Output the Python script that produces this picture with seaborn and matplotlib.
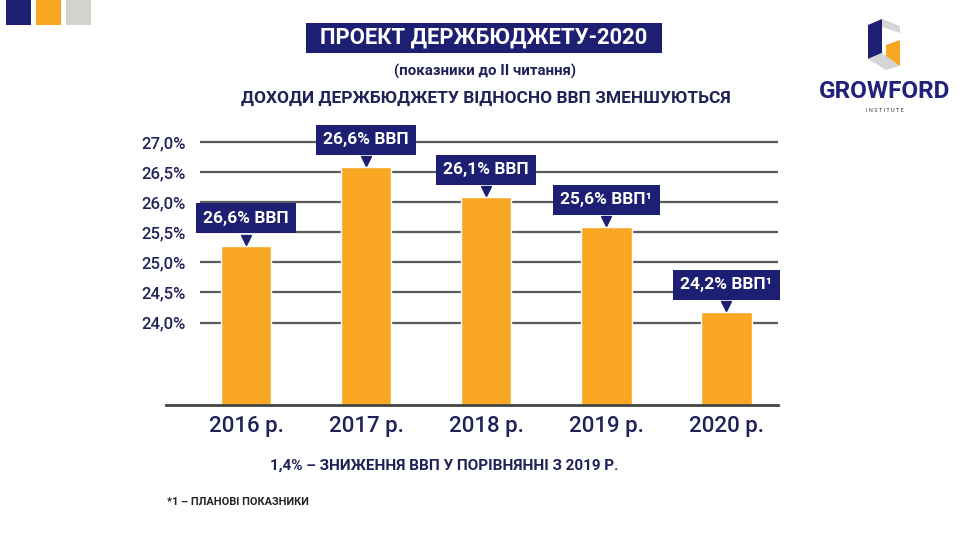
import matplotlib
matplotlib.use("Agg")
import matplotlib.pyplot as plt
import seaborn as sns
import pandas as pd
from matplotlib.patches import Polygon, Rectangle

# ---- data ----
years = ["2016 р.", "2017 р.", "2018 р.", "2019 р.", "2020 р."]
values = [25.28, 26.58, 26.08, 25.58, 24.17]
bar_labels = ["26,6% ВВП", "26,6% ВВП", "26,1% ВВП", "25,6% ВВП¹", "24,2% ВВП¹"]
y_ticks = [24.0, 24.5, 25.0, 25.5, 26.0, 26.5, 27.0]
y_tick_labels = ["24,0%", "24,5%", "25,0%", "25,5%", "26,0%", "26,5%", "27,0%"]

title = "ПРОЕКТ ДЕРЖБЮДЖЕТУ-2020"
subtitle = "(показники до II читання)"
heading = "ДОХОДИ ДЕРЖБЮДЖЕТУ ВІДНОСНО ВВП ЗМЕНШУЮТЬСЯ"
note = "1,4% – ЗНИЖЕННЯ ВВП У ПОРІВНЯННІ З 2019 Р."
footnote = "*1 – ПЛАНОВІ ПОКАЗНИКИ"

ORANGE = "#F9A623"
NAVY = "#1C1F72"
TEXT = "#1F2157"
GRID = "#5a5a5a"

sns.set_style("white")
plt.rcParams["font.family"] = ["Roboto", "DejaVu Sans"]

W, H = 960, 540
fig = plt.figure(figsize=(9.6, 5.4), dpi=100)
fig.patch.set_facecolor("white")

def fx(px):
    return px / W

def fy(py):
    return 1 - py / H

ax = fig.add_axes([fx(166), fy(405), fx(778) - fx(166), fy(130) - fy(405)])
df = pd.DataFrame({"year": years, "value": values})
sns.barplot(data=df, x="year", y="value", color=ORANGE, width=0.42,
            saturation=1, ax=ax, zorder=2)

ax.set_xlim(-0.667, 4.43)
ax.set_ylim(22.63, 27.2)
ax.hlines(y_ticks, -0.383, 4.43, color=GRID, lw=1.6, zorder=1)

for s in ["top", "right", "left"]:
    ax.spines[s].set_visible(False)
ax.spines["bottom"].set_color("#444444")
ax.spines["bottom"].set_linewidth(2)

ax.set_yticks(y_ticks)
ax.set_yticklabels(y_tick_labels)
ax.tick_params(axis="y", length=0, pad=-14.4, labelsize=12, labelcolor=TEXT)
for lab in ax.get_yticklabels():
    lab.set_fontweight("medium")
ax.tick_params(axis="x", direction="in", length=6, width=1.5, color="#444444",
               pad=8, labelsize=16, labelcolor=TEXT)
for lab in ax.get_xticklabels():
    lab.set_fontweight("medium")
ax.set_xlabel("")
ax.set_ylabel("")

# value labels with pointer
for i, (v, lab) in enumerate(zip(values, bar_labels)):
    ax.annotate(lab, xy=(i, v), xytext=(0, 27.5), textcoords="offset pixels",
                ha="center", va="center", color="white", fontsize=12.5,
                fontweight="bold", zorder=5,
                bbox=dict(boxstyle="square,pad=0.42", fc=NAVY, ec="none"))
    ax.plot([i], [v], marker="v", markersize=7.5, color=NAVY, zorder=4,
            transform=matplotlib.transforms.offset_copy(ax.transData, fig=fig, x=0, y=6, units="dots"))

# titles
fig.patches.append(Rectangle((fx(306), fy(53)), fx(662) - fx(306), fy(23) - fy(53),
                             transform=fig.transFigure, fc=NAVY, ec="none"))
fig.text(fx(484), fy(38), title, ha="center", va="center", color="white",
         fontsize=15.8, fontweight="bold")
fig.text(fx(485), fy(71), subtitle, ha="center", va="center", color=TEXT,
         fontsize=10.8, fontweight="bold")
fig.text(fx(486), fy(98), heading, ha="center", va="center", color=TEXT,
         fontsize=12.5, fontweight="bold")
fig.text(fx(444), fy(466), note, ha="center", va="center", color=TEXT,
         fontsize=11, fontweight="bold")
fig.text(fx(167), fy(502), footnote, ha="left", va="center", color="#222222",
         fontsize=7.9, fontweight="bold")

# corner squares
for x0, c in [(6, NAVY), (36, ORANGE), (66, "#D2D2CE")]:
    fig.patches.append(Rectangle((fx(x0), fy(25)), fx(25), 25 / H,
                                 transform=fig.transFigure, fc=c, ec="none"))

# logo
def poly(pts, c):
    fig.patches.append(Polygon([(fx(a), fy(b)) for a, b in pts], closed=True,
                               transform=fig.transFigure, fc=c, ec="none"))

poly([(868, 25), (882, 19), (882, 53), (868, 59)], NAVY)
poly([(882, 19), (900, 26), (900, 33), (882, 27)], "#D5D5D8")
poly([(886, 45), (900, 40), (900, 66), (886, 62)], ORANGE)
poly([(868, 59), (882, 53), (900, 66), (886, 70)], "#D5D5D8")
fig.text(fx(885), fy(92), "GROWFORD", ha="center", va="center", color="#23227A",
         fontsize=17.5, fontweight="bold",
         family=["Roboto", "DejaVu Sans"])
fig.text(fx(885), fy(110), "I N S T I T U T E", ha="center", va="center",
         color="#333333", fontsize=4)

fig.savefig("out.png", dpi=100)
